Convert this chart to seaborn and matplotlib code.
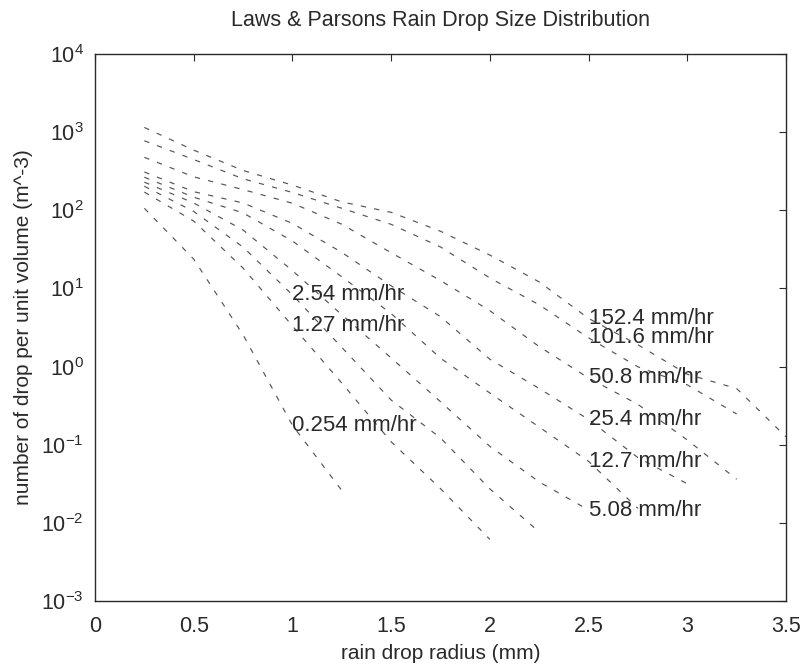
import matplotlib
matplotlib.use('Agg')
import matplotlib.pyplot as plt
import matplotlib.ticker as ticker
import pandas as pd
import seaborn as sns

# drop radius (mm), every curve starts at 0.25 and uses as many points as it has values
radius = [0.25, 0.5, 0.75, 1.0, 1.25, 1.5, 1.75, 2.0, 2.25, 2.5, 2.75, 3.0, 3.25, 3.5]

rates = ['0.254', '1.27', '2.54', '5.08', '12.7', '25.4', '50.8', '101.6', '152.4']

n_0_254 = [106, 23.7, 2.55, 0.177, 0.026]
n_1_27 = [171, 72.8, 18.2, 3.31, 0.615, 0.109, 0.0274, 0.00613]
n_2_54 = [203, 96.6, 33.8, 8.26, 1.76, 0.373, 0.122, 0.0272, 0.00763]
n_5_08 = [229, 124, 55.9, 16.9, 4.60, 1.29, 0.355, 0.0952, 0.0334, 0.0146]
n_12_7 = [265, 147, 92.5, 40.4, 14.1, 4.77, 1.28, 0.458, 0.168, 0.0612, 0.0153]
n_25_4 = [309, 173, 124, 67.9, 28.9, 10.8, 4.35, 1.24, 0.524, 0.210, 0.0683, 0.0316]
n_50_8 = [476, 268, 184, 123, 66.3, 28.6, 12.6, 5.19, 1.80, 0.714, 0.328, 0.115, 0.0361]
n_101_6 = [776, 446, 253, 169, 106, 66.1, 33.9, 13.6, 6.17, 2.33, 0.991, 0.584, 0.247]
n_152_4 = [1148, 588, 323, 210, 128, 94.1, 53.9, 26.7, 12.1, 4.13, 1.90, 0.797, 0.523, 0.126]

# radius at which each curve gets its text label
label_r = [1.0, 1.0, 1.0, 2.5, 2.5, 2.5, 2.5, 2.5, 2.5]

series = [n_0_254, n_1_27, n_2_54, n_5_08, n_12_7, n_25_4, n_50_8, n_101_6, n_152_4]

rows = []
for rate, vals in zip(rates, series):
    for r, n in zip(radius, vals):
        rows.append(dict(rate=rate, radius=r, n=n))
df = pd.DataFrame(rows)

sns.set_theme(style='white')
plt.rcParams['font.family'] = ['Liberation Sans', 'DejaVu Sans']
plt.rcParams['mathtext.fontset'] = 'custom'
plt.rcParams['mathtext.rm'] = 'Liberation Sans'

fig = plt.figure(figsize=(8.07, 6.64), dpi=100)
ax = fig.add_axes([0.1177, 0.0949, 0.974 - 0.1177, 0.9187 - 0.0949])

line_col = '#555555'
for rate in rates:
    sub = df[df['rate'] == rate]
    sns.lineplot(data=sub, x='radius', y='n', ax=ax, color=line_col,
                 linewidth=0.85, linestyle=(0, (4.5, 7)), legend=False)

ax.set_yscale('log')
ax.set_xlim(0, 3.5)
ax.set_ylim(1e-3, 1e4)

# labels sit on the curve at the chosen radius
for rate, vals, lr in zip(rates, series, label_r):
    idx = radius.index(lr)
    ax.text(lr, vals[idx], rate + ' mm/hr', ha='left', va='center',
            fontsize=16, color='#2a2a2a')

ax.set_xticks([0, 0.5, 1, 1.5, 2, 2.5, 3, 3.5])
ax.xaxis.set_major_formatter(ticker.FuncFormatter(lambda v, pos: '{:g}'.format(v)))
ax.set_yticks([1e-3, 1e-2, 1e-1, 1e0, 1e1, 1e2, 1e3, 1e4])
ax.yaxis.set_minor_locator(ticker.NullLocator())

ax.tick_params(axis='both', which='major', direction='in', length=5, width=0.8,
               top=True, right=True, labelsize=15.5, colors='#2a2a2a')
ax.tick_params(axis='x', pad=11)
ax.tick_params(axis='y', pad=8)
for s in ax.spines.values():
    s.set_color('#2a2a2a')
    s.set_linewidth(1.0)

ax.set_xlabel('rain drop radius (mm)', fontsize=15, color='#2a2a2a', labelpad=5)
ax.set_ylabel('number of drop per unit volume (m^-3)', fontsize=15, color='#2a2a2a', labelpad=6)
ax.set_title('Laws & Parsons Rain Drop Size Distribution', fontsize=15.5, color='#2a2a2a', pad=20)

fig.savefig('out.png', dpi=100)
